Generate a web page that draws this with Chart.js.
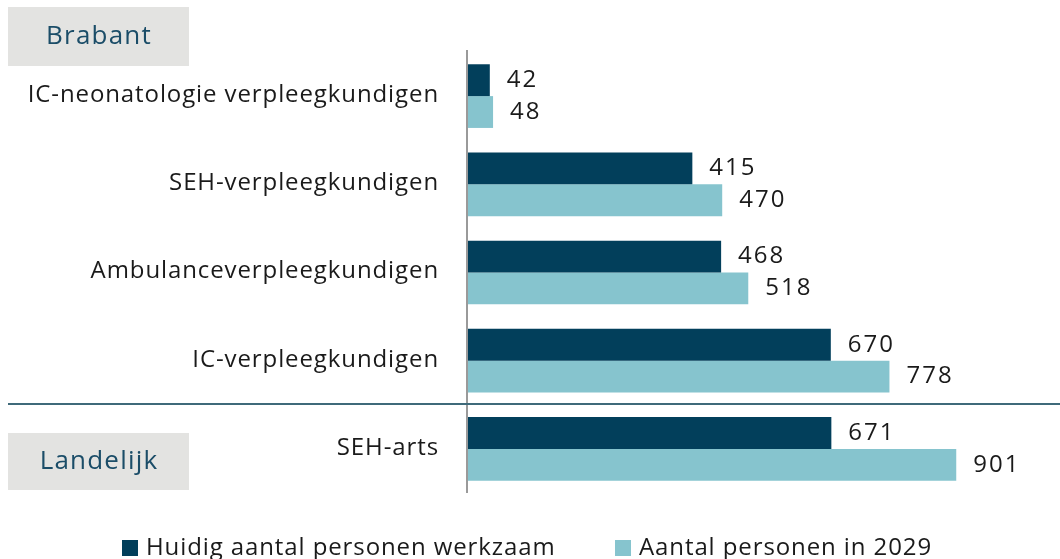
<!DOCTYPE html>
<html>
<head>
<meta charset="utf-8">
<script src="https://cdn.jsdelivr.net/npm/chart.js@4"></script>
<style>
    html, body { margin: 0; padding: 0; background: #ffffff; }
    #wrap { width: 1060px; height: 559px; position: relative; }
</style>
</head>
<body>
<div id="wrap"><canvas id="chart"></canvas></div>
<script>
// Data
const categories = [
    'IC-neonatologie verpleegkundigen',
    'SEH-verpleegkundigen',
    'Ambulanceverpleegkundigen',
    'IC-verpleegkundigen',
    'SEH-arts'
];
const seriesNames = ['Huidig aantal personen werkzaam', 'Aantal personen in 2029'];
const currentValues = [42, 415, 468, 670, 671];
const values2029 = [48, 470, 518, 778, 901];
const groupLabels = ['Brabant', 'Landelijk'];

const DARK = '#023f5b';
const LIGHT = '#86c4ce';
const FONT = '"Open Sans", sans-serif';

// Draws the category names, value labels, axis line, region boxes and legend
const decorations = {
    id: 'decorations',
    afterDatasetsDraw(chart) {
        const ctx = chart.ctx;
        const xs = chart.scales.x;
        const ys = chart.scales.y;
        const area = chart.chartArea;
        const x0 = xs.getPixelForValue(0);

        ctx.save();

        // vertical axis line
        ctx.strokeStyle = '#9a9a9a';
        ctx.lineWidth = 2;
        ctx.beginPath();
        ctx.moveTo(x0, area.top - 2);
        ctx.lineTo(x0, area.bottom);
        ctx.stroke();

        // separator between regional and national rows
        const sepY = Math.round(ys.getPixelForValue(3.5)) - 1;
        ctx.strokeStyle = '#3f6a7a';
        ctx.lineWidth = 2;
        ctx.beginPath();
        ctx.moveTo(8, sepY);
        ctx.lineTo(1060, sepY);
        ctx.stroke();

        // category names
        ctx.fillStyle = '#1a1a1a';
        ctx.font = '24px ' + FONT;
        ctx.letterSpacing = '0.9px';
        ctx.textAlign = 'right';
        ctx.textBaseline = 'middle';
        categories.forEach((c, i) => {
            ctx.fillText(c, x0 - 28, ys.getPixelForValue(i) - 1);
        });

        // value labels next to the bars
        ctx.textAlign = 'left';
        ctx.letterSpacing = '2px';
        chart.data.datasets.forEach((ds, di) => {
            const meta = chart.getDatasetMeta(di);
            meta.data.forEach((bar, i) => {
                ctx.fillText(String(ds.data[i]), bar.x + 17, bar.y);
            });
        });

        // region boxes
        const boxes = [
            { label: groupLabels[0], y: 7, h: 59 },
            { label: groupLabels[1], y: 433, h: 57 }
        ];
        ctx.letterSpacing = '1.2px';
        boxes.forEach(b => {
            ctx.fillStyle = '#e3e3e1';
            ctx.fillRect(8, b.y, 181, b.h);
            ctx.fillStyle = '#1b4d68';
            ctx.font = '26px ' + FONT;
            ctx.textAlign = 'center';
            ctx.fillText(b.label, 99, b.y + b.h / 2);
        });

        // legend
        ctx.font = '24px ' + FONT;
        ctx.letterSpacing = '0.9px';
        ctx.textAlign = 'left';
        const legendY = 548;
        const items = [
            { x: 122, color: DARK, text: seriesNames[0] },
            { x: 615, color: LIGHT, text: seriesNames[1] }
        ];
        items.forEach(it => {
            ctx.fillStyle = it.color;
            ctx.fillRect(it.x, legendY - 8, 16, 16);
            ctx.fillStyle = '#1a1a1a';
            ctx.fillText(it.text, it.x + 24, legendY);
        });

        ctx.restore();
    }
};

const ctx = document.getElementById('chart').getContext('2d');
new Chart(ctx, {
    type: 'bar',
    data: {
        labels: categories,
        datasets: [
            { label: seriesNames[0], data: currentValues, backgroundColor: DARK },
            { label: seriesNames[1], data: values2029, backgroundColor: LIGHT }
        ]
    },
    options: {
        indexAxis: 'y',
        responsive: true,
        maintainAspectRatio: false,
        animation: false,
        barPercentage: 1,
        categoryPercentage: 0.722,
        layout: {
            padding: { left: 467, right: 50, top: 52, bottom: 66 }
        },
        plugins: {
            legend: { display: false },
            tooltip: { enabled: false }
        },
        scales: {
            x: { display: false, min: 0, max: 1000 },
            y: { display: false }
        }
    },
    plugins: [decorations]
});
</script>
</body>
</html>
